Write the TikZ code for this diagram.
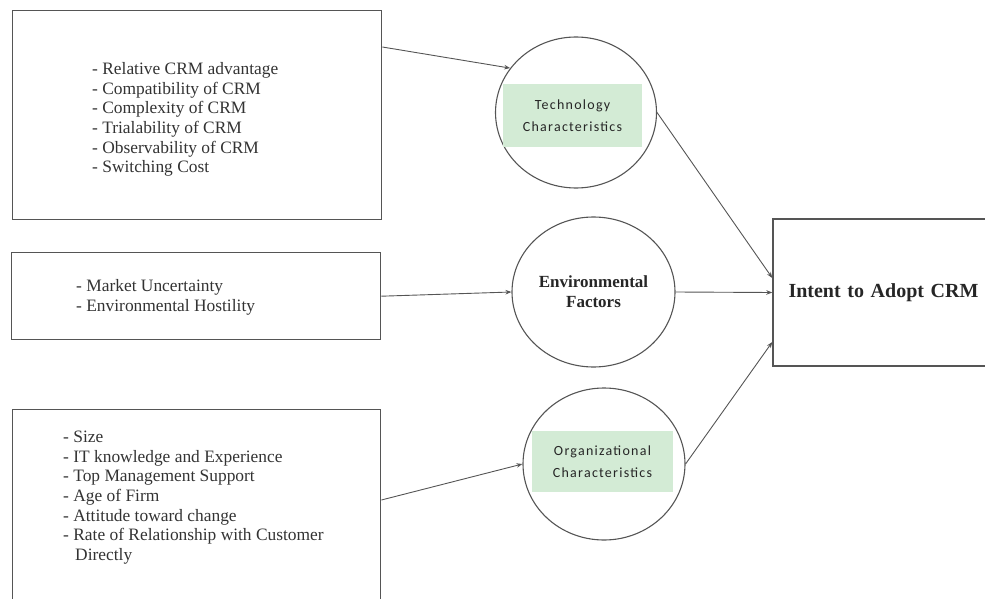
\documentclass[tikz,border=0pt]{standalone}
\usepackage{fontspec}
\setmainfont{Liberation Serif}
\newfontfamily\calib[LetterSpace=9]{Carlito}
\usetikzlibrary{shapes.geometric,arrows.meta,calc}
\definecolor{ln}{HTML}{555555}
\definecolor{gbox}{HTML}{D3EBD5}
\begin{document}
\begin{tikzpicture}[x=1pt,y=-1pt,
  box/.style={draw=ln,line width=1.4pt,rectangle,anchor=north west,inner sep=0pt},
  circ/.style={draw=ln,line width=1.1pt,ellipse,inner sep=0pt},
  greenbox/.style={fill=gbox,rectangle,inner sep=0pt,align=center,
    font=\calib\fontsize{14}{22}\selectfont,text=black!85},
  listtext/.style={anchor=north west,inner sep=0pt,align=left,
    font=\fontsize{17.4}{19.6}\selectfont,text=black!80},
  arr/.style={draw=ln,line width=0.9pt,-{Stealth[length=6pt,width=4.5pt]}}]
\useasboundingbox (0,0) rectangle (985,599);
% left boxes
\node[box,minimum width=369pt,minimum height=209pt] (box1) at (12,10) {};
\node[box,minimum width=369pt,minimum height=87pt] (box2) at (11,252) {};
\node[box,minimum width=368pt,minimum height=197pt] (box3) at (12,409) {};
\node[listtext] (t1) at (92,62.5) {- Relative CRM advantage\\- Compatibility of CRM\\- Complexity of CRM\\- Trialability of CRM\\- Observability of CRM\\- Switching Cost};
\node[listtext] (t2) at (76,279.5) {- Market Uncertainty\\- Environmental Hostility};
\node[listtext] (t3) at (63,431) {- Size\\- IT knowledge and Experience\\- Top Management Support\\- Age of Firm\\- Attitude toward change\\- Rate of Relationship with Customer\\\hspace*{12pt}Directly};
% circles
\node[circ,minimum width=161pt,minimum height=151pt] (c1) at (576,112.5) {};
\node[greenbox,minimum width=139pt,minimum height=63pt] (g1) at (572.5,115.5) {Technology\\Characteristics};
\node[circ,minimum width=163pt,minimum height=150pt,align=center,
  font=\bfseries\fontsize{17}{20}\selectfont,text=black!85] (c2) at (593.5,292) {Environmental\\Factors};
\node[circ,minimum width=162pt,minimum height=152pt] (c3) at (604,464) {};
\node[greenbox,minimum width=141pt,minimum height=61pt] (g3) at (602.5,461.5) {Organizational\\Characteristics};
% target
\node[box,anchor=center,minimum width=213pt,minimum height=147pt,
  font=\bfseries\fontsize{20}{24}\selectfont,text=black!85,text width=200pt,align=center] (intent) at (879.5,292.5) {\hspace*{8pt}Intent to Adopt CRM};
% connectors
\draw[arr] ($(box1.north east)+(0,37)$) -- (c1.146);
\draw[arr] (box2.east) -- (c2.west);
\draw[arr] ($(box3.north east)+(0,91)$) -- (c3.west);
\draw[arr] (c1.east) -- ($(intent.west)+(0,-14.5)$);
\draw[arr] (c2.east) -- (intent.west);
\draw[arr] (c3.east) -- ($(intent.west)+(0,49.5)$);
\end{tikzpicture}
\end{document}
